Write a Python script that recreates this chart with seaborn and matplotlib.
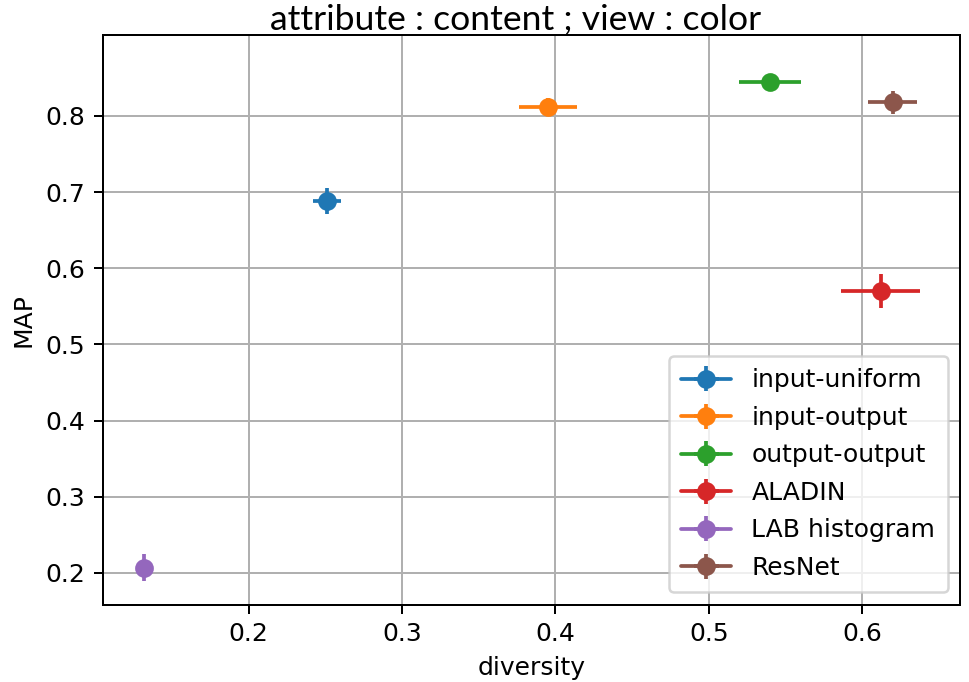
import matplotlib
matplotlib.use("Agg")
import matplotlib.pyplot as plt
import seaborn as sns

methods = ["input-uniform", "input-output", "output-output", "ALADIN", "LAB histogram", "ResNet"]
diversity = [0.251, 0.395, 0.540, 0.612, 0.132, 0.620]
diversity_err = [0.009, 0.019, 0.020, 0.026, 0.003, 0.016]
map_vals = [0.688, 0.812, 0.845, 0.570, 0.207, 0.818]
map_err = [0.017, 0.012, 0.010, 0.022, 0.018, 0.015]

sns.set_style("ticks")
plt.rcParams["font.family"] = ["DejaVu Sans"]
plt.rcParams["text.color"] = "black"
plt.rcParams["axes.labelcolor"] = "black"
colors = sns.color_palette("tab10", len(methods))

fig = plt.figure(figsize=(969 / 180, 682 / 180), dpi=180)
ax = fig.add_axes([0.106, 0.113, 0.885, 0.836])
for i, m in enumerate(methods):
    ax.errorbar([diversity[i]], [map_vals[i]], xerr=[diversity_err[i]], yerr=[map_err[i]],
                fmt="-o", color=colors[i], label=m, markersize=6.5, elinewidth=1.5,
                linewidth=1.5)

ax.set_xlim(0.1048, 0.664)
ax.set_ylim(0.158, 0.9066)
ax.set_xticks([0.2, 0.3, 0.4, 0.5, 0.6])
ax.set_yticks([0.2, 0.3, 0.4, 0.5, 0.6, 0.7, 0.8])
ax.grid(True, color="#b0b0b0", linewidth=0.8)
for s in ax.spines.values():
    s.set_color("black")
    s.set_linewidth(0.8)
ax.tick_params(direction="out", length=3.5, width=0.8, labelsize=10,
               colors="black", labelcolor="black")
ax.set_xlabel("diversity", fontsize=10, color="black")
ax.set_ylabel("MAP", fontsize=10, color="black")
leg = ax.legend(loc="lower right", fontsize=10, framealpha=0.8, edgecolor="#cccccc",
                labelspacing=0.54, borderpad=0.5, handlelength=2.0)
for t in leg.get_texts():
    t.set_color("black")
fig.text(0.532, 0.972, "attribute : content ; view : color", ha="center", va="center",
         fontsize=14.2, color="black", family=["Lato", "DejaVu Sans"])
fig.savefig("out.png", dpi=180)
